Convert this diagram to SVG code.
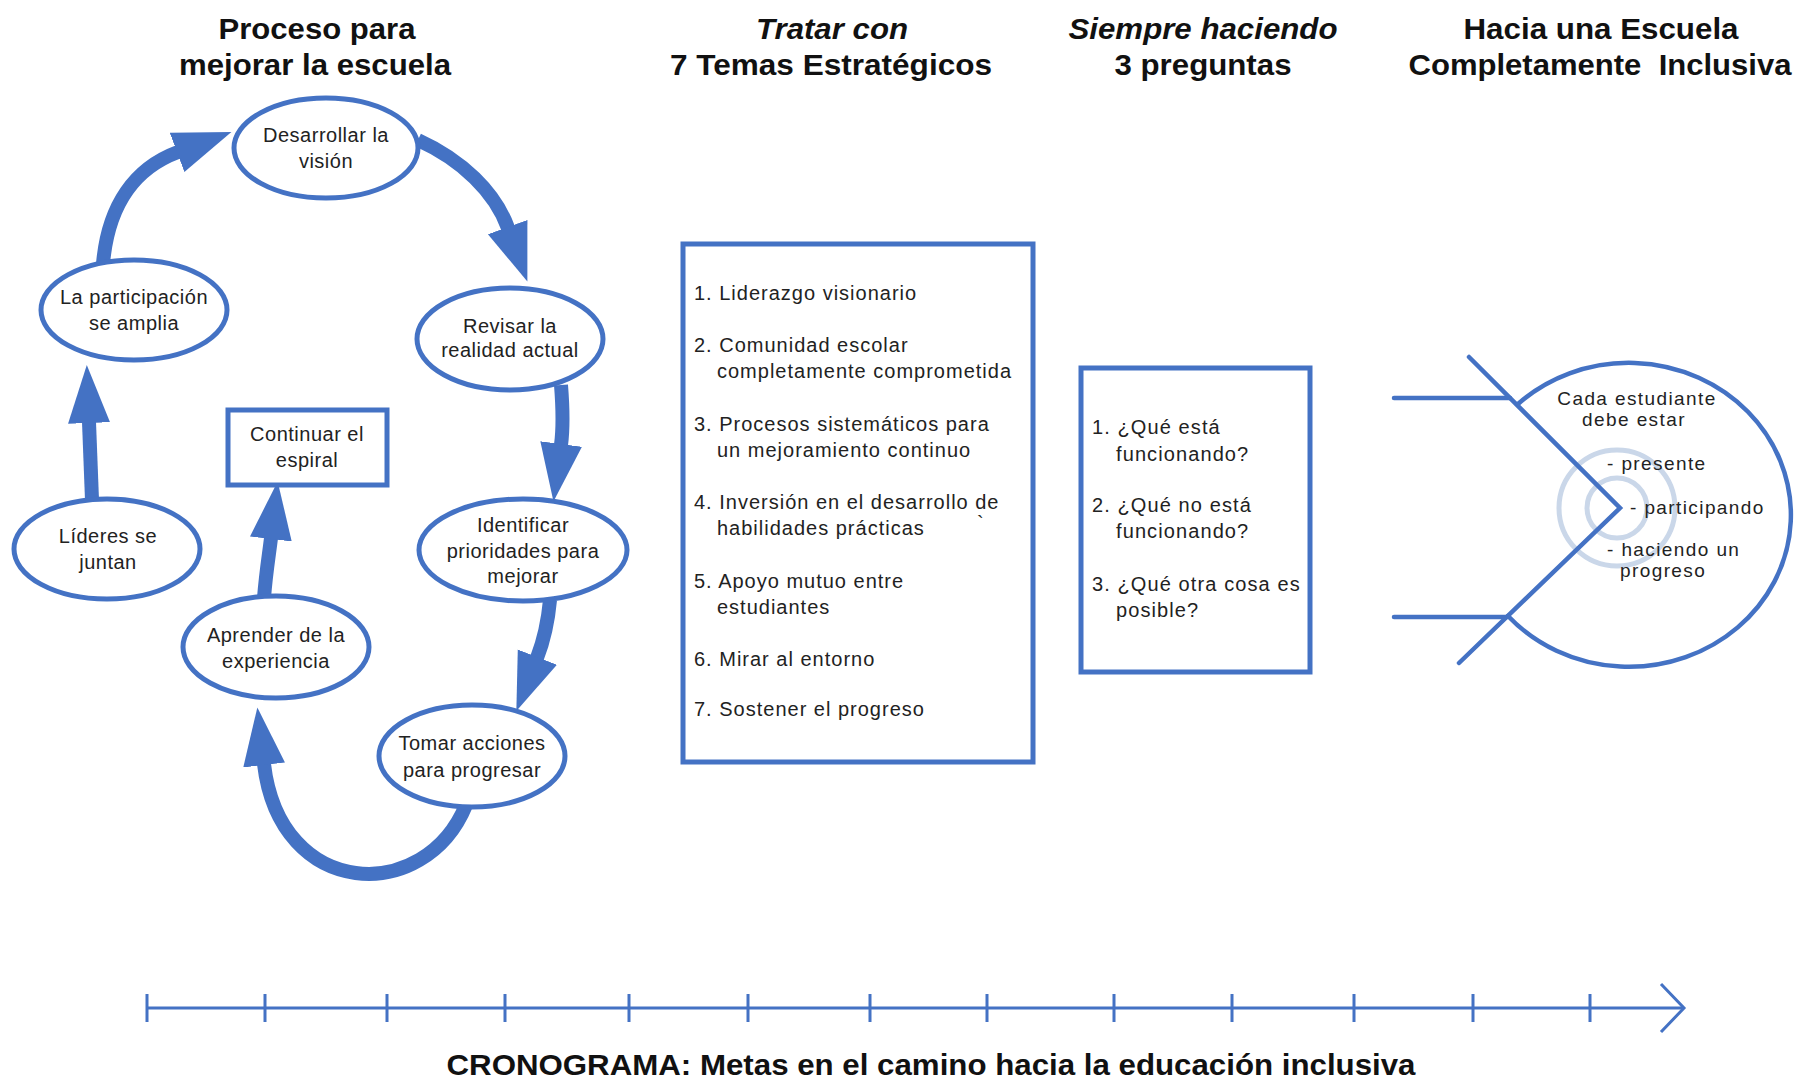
<svg xmlns="http://www.w3.org/2000/svg" width="1796" height="1081" viewBox="0 0 1796 1081">
<style>
.bg{fill:#ffffff}
.node{fill:#ffffff;stroke:#4472C4;stroke-width:5}
.box{fill:#ffffff;stroke:#4472C4;stroke-width:5}
.arrow{fill:none;stroke:#4472C4;stroke-width:14}
.line{fill:none;stroke:#4472C4;stroke-width:4.5;stroke-linecap:round;stroke-linejoin:miter}
.ring{fill:none;stroke:#CAD7E9;stroke-width:5}
.tl{fill:none;stroke:#4472C4;stroke-width:3}
.title{font-family:"Liberation Sans",Arial,sans-serif;font-weight:bold;font-size:30px;fill:#111;text-anchor:middle}
.it{font-style:italic}
.nt{font-family:"Liberation Sans",Arial,sans-serif;font-size:20px;fill:#222;text-anchor:middle;letter-spacing:0.5px}
.lt{font-family:"Liberation Sans",Arial,sans-serif;font-size:20px;fill:#222;letter-spacing:1px}
.qt{font-family:"Liberation Sans",Arial,sans-serif;font-size:20px;fill:#222;letter-spacing:1.1px}
.rt{font-family:"Liberation Sans",Arial,sans-serif;font-size:19px;fill:#222;letter-spacing:1.4px}
</style>
<defs>
<marker id="head" markerUnits="userSpaceOnUse" markerWidth="62" markerHeight="50" viewBox="0 -25 62 50" refX="1" refY="0" orient="auto">
<path d="M0,-21 L58,0 L0,21 z" fill="#4472C4"/>
</marker>
</defs>
<rect class="bg" x="0" y="0" width="1796" height="1081"/>

<g id="titles">
<text class="title" x="317" y="39" textLength="197" lengthAdjust="spacingAndGlyphs">Proceso para</text>
<text class="title" x="315" y="75" textLength="272" lengthAdjust="spacingAndGlyphs">mejorar la escuela</text>
<text class="title it" x="832" y="39" textLength="152" lengthAdjust="spacingAndGlyphs">Tratar con</text>
<text class="title" x="831" y="75" textLength="322" lengthAdjust="spacingAndGlyphs">7 Temas Estratégicos</text>
<text class="title it" x="1203" y="39" textLength="269" lengthAdjust="spacingAndGlyphs">Siempre haciendo</text>
<text class="title" x="1203" y="75" textLength="177" lengthAdjust="spacingAndGlyphs">3 preguntas</text>
<text class="title" x="1601" y="39" textLength="275" lengthAdjust="spacingAndGlyphs">Hacia una Escuela</text>
<text class="title" x="1600" y="75" textLength="383" lengthAdjust="spacingAndGlyphs" xml:space="preserve">Completamente  Inclusiva</text>
</g>

<g id="connectors">
<path class="arrow" marker-end="url(#head)" d="M103,264 C108,205 135,168 178,152"/>
<path class="arrow" marker-end="url(#head)" d="M418,140 C462,160 495,192 508,228"/>
<path class="arrow" marker-end="url(#head)" d="M561,385 C563,410 563,430 561,445"/>
<path class="arrow" marker-end="url(#head)" d="M550,600 C548,622 544,640 537,658"/>
<path class="arrow" marker-end="url(#head)" d="M466,805 C425,905 280,900 264,764"/>
<path class="arrow" marker-end="url(#head)" d="M264,598 C266,572 269,555 271,538"/>
<path class="arrow" marker-end="url(#head)" d="M92,500 L89,422"/>
</g>

<g id="n-desarrollar">
<ellipse class="node" cx="326" cy="148" rx="92" ry="50"/>
<text class="nt" x="326" y="142">Desarrollar la</text>
<text class="nt" x="326" y="168">visión</text>
</g>
<g id="n-participacion">
<ellipse class="node" cx="134" cy="310" rx="93" ry="50"/>
<text class="nt" x="134" y="304">La participación</text>
<text class="nt" x="134" y="330">se amplia</text>
</g>
<g id="n-revisar">
<ellipse class="node" cx="510" cy="339" rx="93" ry="51"/>
<text class="nt" x="510" y="333">Revisar la</text>
<text class="nt" x="510" y="357">realidad actual</text>
</g>
<g id="n-lideres">
<ellipse class="node" cx="107" cy="549" rx="93" ry="50"/>
<text class="nt" x="108" y="543">Líderes se</text>
<text class="nt" x="108" y="569">juntan</text>
</g>
<g id="n-identificar">
<ellipse class="node" cx="523" cy="550" rx="104" ry="51"/>
<text class="nt" x="523" y="532">Identificar</text>
<text class="nt" x="523" y="558">prioridades para</text>
<text class="nt" x="523" y="583">mejorar</text>
</g>
<g id="n-aprender">
<ellipse class="node" cx="276" cy="647" rx="93" ry="51"/>
<text class="nt" x="276" y="642">Aprender de la</text>
<text class="nt" x="276" y="668">experiencia</text>
</g>
<g id="n-tomar">
<ellipse class="node" cx="472" cy="756" rx="93" ry="51"/>
<text class="nt" x="472" y="750">Tomar acciones</text>
<text class="nt" x="472" y="777">para progresar</text>
</g>
<g id="n-continuar">
<rect class="box" x="228" y="410" width="159" height="75"/>
<text class="nt" x="307" y="441">Continuar el</text>
<text class="nt" x="307" y="467">espiral</text>
</g>

<g id="n-temas">
<rect class="box" x="683" y="244" width="350" height="518"/>
<text class="lt" x="694" y="300">1. Liderazgo visionario</text>
<text class="lt" x="694" y="352">2. Comunidad escolar</text>
<text class="lt" x="717" y="378">completamente comprometida</text>
<text class="lt" x="694" y="431">3. Procesos sistemáticos para</text>
<text class="lt" x="717" y="457">un mejoramiento continuo</text>
<text class="lt" x="694" y="509">4. Inversión en el desarrollo de</text>
<text class="lt" x="717" y="535">habilidades prácticas</text>
<text class="lt" x="977" y="530">`</text>
<text class="lt" x="694" y="588">5. Apoyo mutuo entre</text>
<text class="lt" x="717" y="614">estudiantes</text>
<text class="lt" x="694" y="666">6. Mirar al entorno</text>
<text class="lt" x="694" y="716">7. Sostener el progreso</text>
</g>

<g id="n-preguntas">
<rect class="box" x="1081" y="368" width="229" height="304"/>
<text class="qt" x="1092" y="434">1. ¿Qué está</text>
<text class="qt" x="1116" y="461">funcionando?</text>
<text class="qt" x="1092" y="512">2. ¿Qué no está</text>
<text class="qt" x="1116" y="538">funcionando?</text>
<text class="qt" x="1092" y="591">3. ¿Qué otra cosa es</text>
<text class="qt" x="1116" y="617">posible?</text>
</g>

<g id="n-escuela">
<circle class="ring" cx="1617" cy="508" r="58"/>
<circle class="ring" cx="1617" cy="508" r="30"/>
<line class="line" x1="1394" y1="398" x2="1510" y2="398"/>
<line class="line" x1="1394" y1="617" x2="1507" y2="617"/>
<polyline class="line" points="1469,357 1620,508 1459,663"/>
<path class="line" d="M1518,404 A162,152 0 1 1 1508,616"/>
<text class="rt" x="1637" y="405" text-anchor="middle">Cada estudiante</text>
<text class="rt" x="1634" y="426" text-anchor="middle">debe estar</text>
<text class="rt" x="1607" y="470">- presente</text>
<text class="rt" x="1630" y="514">- participando</text>
<text class="rt" x="1607" y="556">- haciendo un</text>
<text class="rt" x="1620" y="577">progreso</text>
</g>

<g id="timeline">
<line class="tl" x1="147" y1="1008" x2="1683" y2="1008"/>
<polyline class="tl" points="1661,984 1684,1008 1661,1032"/>
<path class="tl" d="M147,994 V1022 M265,994 V1022 M387,994 V1022 M505,994 V1022 M629,994 V1022 M748,994 V1022 M870,994 V1022 M987,994 V1022 M1114,994 V1022 M1232,994 V1022 M1354,994 V1022 M1473,994 V1022 M1590,994 V1022"/>
<text class="title" x="931" y="1075" font-size="28" textLength="969" lengthAdjust="spacingAndGlyphs">CRONOGRAMA: Metas en el camino hacia la educación inclusiva</text>
</g>
</svg>
